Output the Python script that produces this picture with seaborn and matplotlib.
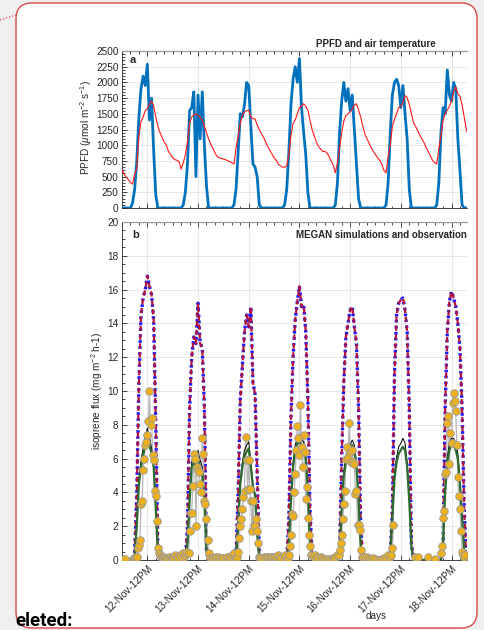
import numpy as np
import pandas as pd
import matplotlib
matplotlib.use("Agg")
import matplotlib.pyplot as plt
import matplotlib.dates as mdates
from matplotlib.patches import FancyBboxPatch
from matplotlib.lines import Line2D
from matplotlib.ticker import MultipleLocator
import seaborn as sns

nan = np.nan
START = "2016-11-12 00:00"
END = "2016-11-18 19:20"

# --- hourly values, 12 Nov 00h .. 18 Nov 20h ---
ppfd = (
    [0, 0, 0, 0, 0, 80, 300, 750, 1450, 1900, 2100, 1950, 2290, 1400, 1750, 900, 200, 0, 0, 0, 0, 0, 0, 0]
    + [0, 0, 0, 0, 0, 50, 250, 700, 1550, 1600, 1850, 500, 1800, 1100, 1850, 1000, 350, 0, 0, 0, 0, 0, 0, 0]
    + [0, 0, 0, 0, 0, 50, 300, 900, 1500, 1450, 1650, 2000, 1950, 1300, 700, 650, 500, 50, 0, 0, 0, 0, 0, 0]
    + [0, 0, 0, 0, 0, 50, 300, 900, 1650, 2050, 2250, 2000, 2380, 1600, 1200, 850, 250, 0, 0, 0, 0, 0, 0, 0]
    + [0, 0, 0, 0, 0, 50, 400, 1200, 1700, 2000, 1700, 1900, 1550, 1800, 1250, 700, 150, 0, 0, 0, 0, 0, 0, 0]
    + [0, 0, 0, 0, 0, 50, 400, 1200, 1800, 2000, 2050, 1950, 1600, 1950, 1500, 1100, 300, 0, 0, 0, 0, 0, 0, 0]
    + [0, 0, 0, 0, 0, 50, 400, 1200, 1600, 1500, 2200, 1800, 1700, 2000, 1900, 1100, 600, 50, 0, 0, 0]
)

# air temperature, drawn on the PPFD scale
tair = (
    [620, 540, 490, 450, 410, 380, 540, 640, 1150, 1380, 1450, 1550, 1580, 1650, 1700, 1620, 1450, 1300, 1200, 1120, 1050, 1000, 900, 850]
    + [800, 770, 760, 740, 620, 720, 850, 1050, 1350, 1450, 1480, 1500, 1470, 1450, 1400, 1300, 1200, 1100, 1020, 950, 880, 820, 800, 790]
    + [780, 770, 750, 740, 720, 700, 950, 1150, 1350, 1480, 1530, 1550, 1560, 1450, 1420, 1420, 1320, 1250, 1180, 1130, 1050, 980, 920, 860]
    + [800, 760, 700, 670, 650, 650, 670, 850, 1150, 1350, 1400, 1500, 1600, 1620, 1660, 1620, 1560, 1400, 1250, 1150, 1050, 980, 940, 900]
    + [900, 880, 820, 750, 680, 560, 720, 950, 1200, 1380, 1470, 1500, 1530, 1570, 1640, 1660, 1560, 1450, 1300, 1180, 1100, 1030, 960, 900]
    + [850, 800, 760, 700, 600, 560, 820, 1000, 1300, 1420, 1500, 1600, 1620, 1680, 1790, 1760, 1650, 1500, 1360, 1300, 1230, 1160, 1100, 1040]
    + [960, 900, 830, 760, 720, 700, 950, 1150, 1400, 1500, 1560, 1620, 1700, 1850, 1930, 1820, 1780, 1650, 1450, 1250, 1150]
)

# MEGAN run plotted as red dashes + blue dots
megan_hi = (
    [0, 0, 0, 0, 0, 0, 0.5, 4, 10.5, 14.5, 15.5, 16, 16.8, 16.2, 15.7, 14.2, 8, 0.5, 0, 0, 0, 0, 0, 0]
    + [0, 0, 0, 0, 0, 0, 0, 2, 9, 12, 13.2, 12.8, 15.2, 12.8, 12.6, 9, 0.5, 0, 0, 0, 0, 0, 0, 0]
    + [0, 0, 0, 0, 0, 0, 0.3, 4, 9.5, 11.5, 13.5, 14.5, 13.8, 15, 10.5, 9.8, 5, 0.3, 0, 0, 0, 0, 0, 0]
    + [0, 0, 0, 0, 0, 0, 0, 2.5, 8.5, 12, 14.2, 15.3, 16.2, 15, 15.1, 13.5, 9.5, 3, 0.2, 0, 0, 0, 0, 0]
    + [0, 0, 0, 0, 0, 0, 0, 0.5, 6, 10.5, 13.2, 14, 14.8, 15, 13.8, 12.8, 9, 2, 0, 0, 0, 0, 0, 0]
    + [0, 0, 0, 0, 0, 0, 0, 0.3, 3, 11, 14.5, 15.2, 15.4, 15.5, 14.8, 13.5, 9, 1, 0, 0, 0, 0, 0, 0]
    + [0, 0, 0, 0, 0, 0, 0, 0, 1, 9, 13.5, 15.3, 15.9, 15.5, 15, 14, 12.5, 9, 3, 0, 0]
)

megan_black = (
    [0, 0, 0, 0, 0, 0, 0.2, 2.2, 4.8, 5.9, 6.6, 7.3, 7.8, 7.3, 6.6, 5.7, 3.1, 0.3, 0, 0, 0, 0, 0, 0]
    + [0, 0, 0, 0, 0, 0, 0, 1.1, 3.8, 5.8, 6.1, 5.8, 6.5, 5.9, 5.5, 3.7, 0.5, 0, 0, 0, 0, 0, 0, 0]
    + [0, 0, 0, 0, 0, 0, 0.2, 2.1, 4.7, 5.8, 6.5, 6.8, 7.0, 5.8, 4.5, 3.9, 1.5, 0.1, 0, 0, 0, 0, 0, 0]
    + [0, 0, 0, 0, 0, 0, 0, 1.0, 3.7, 5.8, 6.8, 7.2, 7.4, 7.1, 7.0, 6.3, 4.1, 1.0, 0, 0, 0, 0, 0, 0]
    + [0, 0, 0, 0, 0, 0, 0, 0.5, 3.1, 5.3, 6.1, 6.5, 6.8, 7.1, 6.8, 5.7, 3.6, 0.8, 0, 0, 0, 0, 0, 0]
    + [0, 0, 0, 0, 0, 0, 0, 0.3, 2.6, 5.1, 6.1, 6.7, 6.9, 7.2, 6.9, 5.8, 3.6, 0.8, 0, 0, 0, 0, 0, 0]
    + [0, 0, 0, 0, 0, 0, 0, 0, 1.0, 4.2, 6.1, 6.9, 7.2, 7.2, 6.9, 6.3, 4.7, 2.6, 0.5, 0, 0]
)

megan_green = (
    [0, 0, 0, 0, 0, 0, 0.2, 2, 4.5, 5.5, 6.2, 6.8, 7, 6.8, 6.3, 5.5, 3, 0.3, 0, 0, 0, 0, 0, 0]
    + [0, 0, 0, 0, 0, 0, 0, 1, 3.5, 5.5, 5.8, 5.5, 6, 5.5, 5.2, 3.5, 0.5, 0, 0, 0, 0, 0, 0, 0]
    + [0, 0, 0, 0, 0, 0, 0.2, 2, 4.5, 5.5, 6.2, 6.4, 6.6, 5.5, 4.3, 3.8, 1.5, 0.1, 0, 0, 0, 0, 0, 0]
    + [0, 0, 0, 0, 0, 0, 0, 1, 3.5, 5.5, 6.5, 6.9, 7, 6.8, 6.7, 6, 4, 1, 0, 0, 0, 0, 0, 0]
    + [0, 0, 0, 0, 0, 0, 0, 0.5, 3, 5, 5.8, 6.2, 6.5, 6.8, 6.5, 5.5, 3.5, 0.8, 0, 0, 0, 0, 0, 0]
    + [0, 0, 0, 0, 0, 0, 0, 0.3, 2.5, 4.8, 5.8, 6.3, 6.5, 6.7, 6.5, 5.5, 3.5, 0.8, 0, 0, 0, 0, 0, 0]
    + [0, 0, 0, 0, 0, 0, 0, 0, 1, 4, 5.8, 6.5, 6.8, 6.8, 6.5, 6, 4.5, 2.5, 0.5, 0, 0]
)

# observed isoprene flux, half-hourly (nan = no measurement)
obs = (
    [nan, nan, 0.05, 0.05, nan, nan, nan, nan, nan, nan, 0.05, 0.1,
     0.1, 0.2, 0.2, 0.7, 0.9, 1.2, 3.3, 3.5, 5.3, 6.0, 6.8, 7.0,
     7.4, 8.2, 10.0, 8.0, 8.4, 6.2, 5.9, 4.1, 3.8, 2.3, 0.7, 0.4,
     0.3, 0.2, 0.2, 0.1, 0.2, 0.1, 0.05, 0.1, 0.05, 0.2, 0.1, 0.1]
    + [0.2, 0.1, 0.3, nan, 0.2, 0.1, nan, 0.3, 0.2, nan, 0.4, 0.2,
       0.3, 0.4, 0.5, 0.4, 1.7, 2.8, 2.8, 4.4, 6.3, 6.0, 2.0, 5.5,
       5.3, 5.2, 4.5, 4.0, 7.2, 6.3, 3.5, 3.3, 2.4, 1.2, 0.4, 0.1,
       nan, 0.1, 0.1, nan, 0.1, 0.2, nan, 0.2, 0.05, 0.1, nan, 0.1]
    + [0.1, nan, 0.1, 0.2, nan, 0.1, 0.2, nan, 0.3, 0.1, 0.4, 0.1,
       0.1, 0.2, 0.5, 1.3, 2.0, 2.4, 3.0, 3.7, 4.1, 7.3, 5.9, 4.2,
       5.9, 4.2, 3.5, 1.7, 3.5, 2.1, 2.0, 2.4, 1.7, 1.0, 0.2, 0.1,
       0.1, nan, 0.2, 0.1, nan, 0.2, 0.2, nan, 0.2, 0.1, 0.2, nan]
    + [0.2, 0.2, nan, 0.2, 0.3, nan, 0.2, 0.1, nan, 0.2, 0.3, nan,
       0.2, 0.1, 0.3, 0.8, 1.5, 2.7, 2.6, 4.0, 5.1, 6.5, 7.9, 7.2,
       6.2, 9.2, 6.7, 5.5, 7.4, 6.4, 3.6, 4.3, 2.5, 1.5, 0.8, 0.3,
       0.3, nan, 0.2, 0.3, nan, 0.2, 0.1, nan, 0.2, 0.1, nan, 0.05]
    + [0.05, nan, 0.0, 0.05, nan, 0.0, 0.05, nan, 0.1, 0.05, 0.2, nan,
       0.3, 0.3, 0.6, 1.0, 1.5, 2.4, 3.3, 4.1, 6.0, 6.7, 6.1, 8.1,
       6.4, 5.8, 6.5, 5.8, 5.7, 3.9, 4.1, 2.1, 2.1, 1.8, 0.6, 0.2,
       0.2, nan, 0.2, nan, 0.2, nan, 0.1, 0.05, nan, 0.05, 0.1, nan]
    + [0.05, nan, 0.0, nan, 0.0, nan, 0.05, nan, 0.1, nan, 0.2, nan,
       0.3, nan, 0.2, 0.3, 0.7, 2.1, nan, nan, nan, nan, nan, nan,
       nan, nan, nan, nan, nan, nan, nan, nan, nan, nan, nan, nan,
       nan, 0.2, nan, nan, 0.2, nan, nan, nan, nan, nan, nan, nan]
    + [nan, nan, 0.2, nan, nan, nan, nan, nan, 0.05, nan, nan, nan,
       nan, nan, 0.4, 0.8, 2.5, 2.9, 5.1, 5.2, 8.1, 8.5, 5.7, 7.5,
       6.9, 9.3, 9.9, 9.4, 8.8, 6.8, 4.9, 3.8, 3.0, 1.7, 0.5, 0.3,
       0.2, 0.3, nan, nan, nan]
)

sns.set_theme(style="ticks")
plt.rcParams["font.family"] = ["Liberation Sans", "DejaVu Sans"]
plt.rcParams.update({
    "mathtext.fontset": "custom",
    "mathtext.rm": "Liberation Sans",
    "mathtext.it": "Liberation Sans:italic",
    "font.size": 7.2,
})
INK = "#262626"
TICK_FS = 7.2

t_hour = pd.date_range(START, periods=len(ppfd), freq="h")
t_obs = pd.date_range(START, periods=len(obs), freq="30min")
df_a = pd.DataFrame({"time": t_hour, "ppfd": ppfd, "tair": tair})
df_b = pd.DataFrame({"time": t_hour, "hi": megan_hi, "black": megan_black, "green": megan_green})
df_obs = pd.DataFrame({"time": t_obs, "flux": obs})

fig = plt.figure(figsize=(4.85, 6.30), dpi=100, facecolor="#efefef")

# page frame of the screenshot (comment box), kept behind the axes
frame = FancyBboxPatch((0.16, 0.02), 4.61, 6.25, boxstyle="round,pad=0,rounding_size=0.16",
                       transform=fig.dpi_scale_trans, facecolor="white", edgecolor="#d9474b",
                       lw=1.0, zorder=-10)
fig.patches.append(frame)
fig.lines.append(Line2D([0.0, 0.16], [6.10, 6.15], transform=fig.dpi_scale_trans,
                        color="#d9474b", ls=(0, (1, 1.5)), lw=0.9, zorder=-5))
fig.text(0.15, 0.04, "eleted:", transform=fig.dpi_scale_trans, fontsize=13.5,
         fontweight="bold", family=["Roboto", "DejaVu Sans"], color="black")

W, H = 485, 630
ax_a = fig.add_axes([122 / W, (H - 208) / H, 345 / W, 157 / H])
ax_b = fig.add_axes([122 / W, (H - 560) / H, 345 / W, 338 / H])

# panel a
sns.lineplot(data=df_a, x="time", y="ppfd", ax=ax_a, color="#0072BD", lw=2.0, zorder=3)
sns.lineplot(data=df_a, x="time", y="tair", ax=ax_a, color="#ff1a1a", lw=0.8, zorder=4)
ax_a.set_ylim(0, 2500)
ax_a.yaxis.set_major_locator(MultipleLocator(250))
ax_a.yaxis.set_minor_locator(MultipleLocator(50))
ax_a.set_ylabel("PPFD ($\\mu$mol m$^{-2}$ s$^{-1}$)", fontsize=7.2, color=INK)
ax_a.yaxis.set_label_coords(-0.082, 0.51)
ax_a.set_xlabel("")
ax_a.tick_params(axis="x", which="both", labelbottom=False)
ax_a.text(0.022, 0.945, "a", transform=ax_a.transAxes, fontsize=8, fontweight="bold", va="center")
ax_a.text(0.91, 1.015, "PPFD and air temperature", transform=ax_a.transAxes, fontsize=7,
          fontweight="bold", ha="right", va="bottom")

# panel b
sns.lineplot(data=df_b, x="time", y="hi", ax=ax_b, color="#1a1aff", lw=2.4, ls=(0, (0.8, 1.0)), zorder=3)
sns.lineplot(data=df_b, x="time", y="hi", ax=ax_b, color="#b0123a", lw=1.6, ls=(0, (2.4, 1.6)), zorder=4)
ax_b.plot(df_obs["time"], df_obs["flux"], color="#b5b5b5", lw=0.9, zorder=5)
sns.lineplot(data=df_b, x="time", y="black", ax=ax_b, color="black", lw=0.7, zorder=6)
sns.lineplot(data=df_b, x="time", y="green", ax=ax_b, color="#2d6a2d", lw=1.6, zorder=7)
sns.scatterplot(data=df_obs, x="time", y="flux", ax=ax_b, color="#EDB120", edgecolor="#9a9a9a",
                s=30, linewidth=0.6, zorder=8)
ax_b.set_ylim(0, 20)
ax_b.yaxis.set_major_locator(MultipleLocator(2))
ax_b.yaxis.set_minor_locator(MultipleLocator(0.5))
ax_b.set_ylabel("isoprene flux (mg m$^{-2}$ h-1)", fontsize=7.2, color=INK)
ax_b.yaxis.set_label_coords(-0.05, 0.5)
ax_b.set_xlabel("days", fontsize=7.2, color=INK)
ax_b.xaxis.set_label_coords(0.736, -0.152)
ax_b.xaxis.set_major_formatter(mdates.DateFormatter("%d-%b-%I%p"))
ax_b.text(0.03, 0.962, "b", transform=ax_b.transAxes, fontsize=8, fontweight="bold", va="center")
ax_b.text(1.0, 0.962, "MEGAN simulations and observation", transform=ax_b.transAxes, fontsize=7,
          fontweight="bold", ha="right", va="center")

for ax in (ax_a, ax_b):
    ax.set_xlim(pd.Timestamp(START), pd.Timestamp(END))
    ax.xaxis.set_major_locator(mdates.HourLocator(byhour=12))
    ax.xaxis.set_minor_locator(mdates.HourLocator(byhour=range(0, 24, 4)))
    ax.grid(True, which="major", color="#e4e4e4", lw=0.6)
    ax.set_axisbelow(True)
    ax.tick_params(which="both", direction="in", top=True, right=False, colors=INK,
                   labelsize=TICK_FS, width=0.6, pad=2.5)
    ax.tick_params(which="major", length=3.5)
    ax.tick_params(which="minor", length=1.8)
    ax.spines["right"].set_visible(False)
    ax.spines["top"].set_color("#9f9f9f")
    ax.spines["top"].set_linewidth(0.9)
    for s in ("left", "bottom"):
        ax.spines[s].set_color(INK)
        ax.spines[s].set_linewidth(0.6)
    ax.set_facecolor("white")

for lab in ax_b.get_xticklabels():
    lab.set_rotation(45)
    lab.set_ha("right")
    lab.set_rotation_mode("anchor")

fig.savefig("out.png", dpi=100, facecolor=fig.get_facecolor())
